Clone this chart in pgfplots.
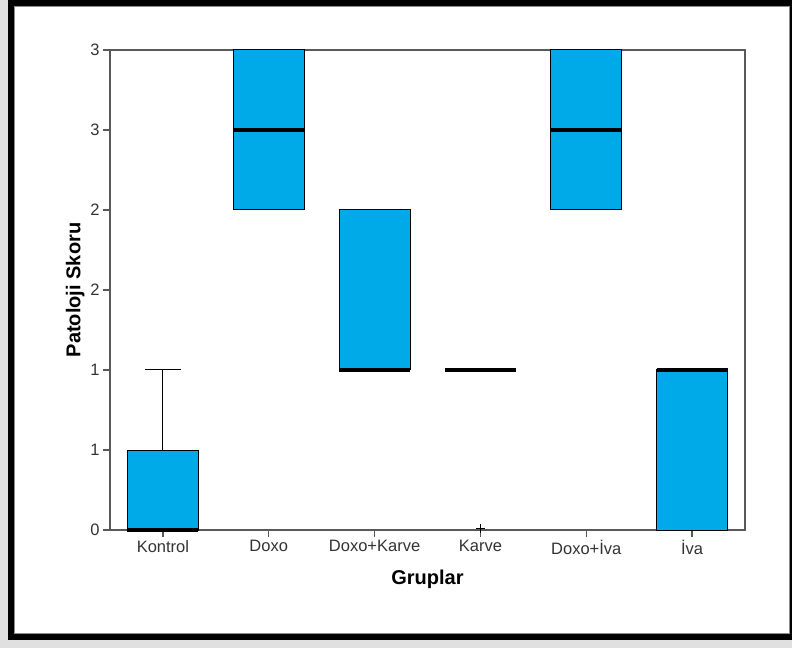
\documentclass[border=0pt]{standalone}
\usepackage{pgfplots}
\pgfplotsset{compat=1.18}
\usepgfplotslibrary{statistics}
\usepackage{fontspec}
\setmainfont{Liberation Sans}
\definecolor{spsblue}{RGB}{0,170,232}
\begin{document}
\begin{tikzpicture}[x=1pt,y=1pt]
\useasboundingbox (0,0) rectangle (792,648);
\fill[black!12] (0,0) rectangle (792,648);
\fill[black] (8,8) rectangle (792,648);
\fill[white] (14,15) rectangle (789,642);
\draw[black!45, line width=0.8pt] (14,15) rectangle (789,642);
\begin{axis}[
  at={(110pt,118pt)}, anchor=south west,
  scale only axis, width=635pt, height=480pt,
  xmin=-0.5, xmax=5.5, ymin=0, ymax=3,
  clip=false,
  xtick={0,1,2,3,4,5},
  xticklabels={Kontrol,Doxo,Doxo+Karve,Karve,Doxo+İva,İva},
  ytick={0,0.5,1,1.5,2,2.5,3},
  yticklabels={0,1,1,2,2,3,3},
  tick align=outside, major tick length=7pt,
  axis line style={black!65, line width=1.2pt},
  every tick/.style={black!65, line width=1.2pt},
  tick label style={font=\fontsize{16.5}{19}\selectfont, text=black!80},
  xtick pos=bottom, ytick pos=left,
  xlabel={Gruplar}, ylabel={Patoloji Skoru},
  label style={font=\bfseries\fontsize{20}{24}\selectfont},
  xlabel style={yshift=-8pt},
  ylabel style={yshift=-1pt},
  boxplot/draw direction=y,
  boxplot/box extend=0.67,
  boxplot/whisker extend=0.34,
  boxplot/every box/.style={fill=spsblue, draw=black, line width=1pt},
  boxplot/every median/.style={black, line width=3.5pt},
  boxplot/every whisker/.style={black, line width=1pt},
]
% Kontrol
\addplot[black, boxplot prepared={draw position=0, lower whisker=0, lower quartile=0, median=0, upper quartile=0.5, upper whisker=1}] coordinates {};
% Doxo
\addplot[black, boxplot prepared={draw position=1, lower whisker=2, lower quartile=2, median=2.5, upper quartile=3, upper whisker=3}] coordinates {};
% Doxo+Karve
\addplot[black, boxplot prepared={draw position=2, lower whisker=1, lower quartile=1, median=1, upper quartile=2, upper whisker=2}] coordinates {};
% Karve
\addplot[black, boxplot prepared={draw position=3, lower whisker=1, lower quartile=1, median=1, upper quartile=1, upper whisker=1}] coordinates {};
\addplot[only marks, mark=+, mark size=4.5pt, mark options={black, line width=1.3pt}] coordinates {(3,0.01)};
% Doxo+Iva
\addplot[black, boxplot prepared={draw position=4, lower whisker=2, lower quartile=2, median=2.5, upper quartile=3, upper whisker=3}] coordinates {};
% Iva
\addplot[black, boxplot prepared={draw position=5, lower whisker=0, lower quartile=0, median=1, upper quartile=1, upper whisker=1}] coordinates {};
\end{axis}
\end{tikzpicture}
\end{document}
